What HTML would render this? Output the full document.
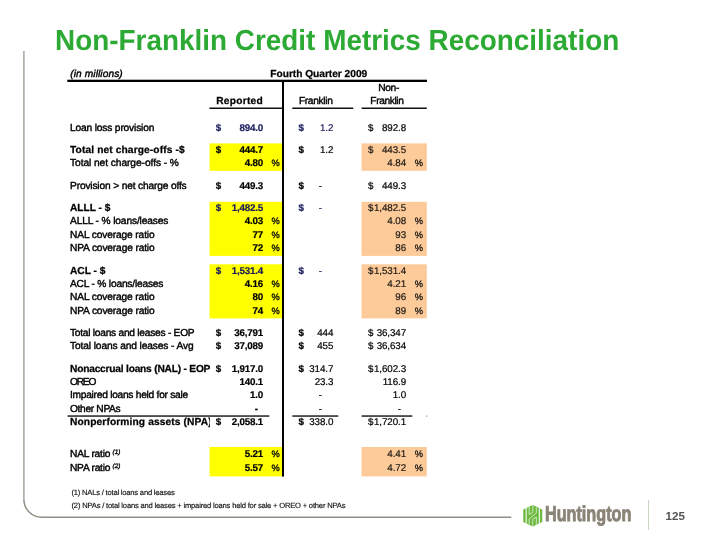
<!DOCTYPE html>
<html lang="en"><head><meta charset="utf-8"><title>Non-Franklin Credit Metrics Reconciliation</title>
<style>
html,body{margin:0;padding:0;background:#fff}
body{width:720px;height:540px;position:relative;overflow:hidden;font-family:"Liberation Sans",sans-serif;text-rendering:geometricPrecision}
.t{position:absolute;white-space:nowrap;font-size:10.2px;line-height:12.0px;color:#000;-webkit-text-stroke:0.4px}
.b{font-weight:bold;-webkit-text-stroke:0.25px}
.i{font-style:italic}
.n{font-size:9.8px;-webkit-text-stroke:0.2px}
.n.b{-webkit-text-stroke:0.2px}
.p{font-size:9.3px;-webkit-text-stroke:0.3px}
.r{position:absolute}
.t sup{font-size:6px;font-style:italic;line-height:0;vertical-align:3px;letter-spacing:0}
#title{position:absolute;left:55.2px;top:24.6px;font-size:29px;line-height:33px;font-weight:bold;color:#2caa34;white-space:nowrap;transform:scaleX(0.962);transform-origin:0 0}
#frame,#shapes{position:absolute;left:0;top:0}
.sp{position:absolute;left:112.6px;font-size:6.4px;line-height:8px;font-style:italic;white-space:nowrap;color:#000;-webkit-text-stroke:0.3px}
.fn{position:absolute;left:71.5px;font-size:7.6px;line-height:10px;white-space:nowrap;color:#111;-webkit-text-stroke:0.15px}
#pg{position:absolute;left:665.5px;top:510px;font-size:11.6px;line-height:13px;font-weight:bold;color:#555}
#sep{position:absolute;left:648px;top:500px;width:1px;height:30px;background:#c9d6c4}
#logo{position:absolute;left:520px;top:502px}
#hunt{position:absolute;left:544.8px;top:499.4px}
</style></head><body>
<svg id="frame" width="720" height="540" viewBox="0 0 720 540"><path d="M23.9,51 V499.5" fill="none" stroke="#a6a399" stroke-width="1.5"/><path d="M23.9,499.5 A17.7,17.7 0 0 0 41.6,517.2 H511.3" fill="none" stroke="#918e84" stroke-width="1.5"/></svg>
<div id="title">Non-Franklin Credit Metrics Reconciliation</div>
<svg id="shapes" width="720" height="540" viewBox="0 0 720 540">
<rect x="209.6" y="143.4" width="72.4" height="27.4" fill="#ffff00"/>
<rect x="361.5" y="143.4" width="65.3" height="27.4" fill="#fdcb9a"/>
<rect x="209.6" y="201.8" width="72.4" height="54.1" fill="#ffff00"/>
<rect x="361.5" y="201.8" width="65.3" height="54.1" fill="#fdcb9a"/>
<rect x="209.6" y="264.3" width="72.4" height="54.1" fill="#ffff00"/>
<rect x="361.5" y="264.3" width="65.3" height="54.1" fill="#fdcb9a"/>
<rect x="209.6" y="447.0" width="72.4" height="29.4" fill="#ffff00"/>
<rect x="361.5" y="447.0" width="65.3" height="29.4" fill="#fdcb9a"/>
<rect x="67.3" y="79.7" width="359.7" height="2.3" fill="#000"/>
<rect x="282.0" y="80.0" width="2.0" height="396.6" fill="#000"/>
<rect x="209.4" y="107.5" width="72.6" height="1.5" fill="#111"/>
<rect x="292.3" y="107.5" width="61.0" height="1.5" fill="#111"/>
<rect x="361.6" y="107.5" width="65.2" height="1.5" fill="#111"/>
<rect x="67.5" y="415.3" width="201.8" height="1.5" fill="#222"/>
<rect x="292.3" y="415.3" width="46.0" height="1.5" fill="#222"/>
<rect x="361.6" y="415.3" width="50.7" height="1.5" fill="#222"/>
<rect x="426.2" y="415.6" width="1.0" height="1.0" fill="#666"/>
</svg>
<div class="t i" style="left:70.3px;top:69.0px;letter-spacing:0.074px;">(in millions)</div>
<div class="t b" style="left:270.3px;top:69.0px;letter-spacing:-0.026px;">Fourth Quarter 2009</div>
<div class="t b" style="left:216.2px;top:96.0px;letter-spacing:0.254px;">Reported</div>
<div class="t " style="left:298.9px;top:96.0px;letter-spacing:-0.333px;">Franklin</div>
<div class="t " style="left:378.2px;top:83.0px;letter-spacing:-0.298px;">Non-</div>
<div class="t " style="left:370.3px;top:96.0px;letter-spacing:-0.391px;">Franklin</div>
<div class="t " style="left:70.0px;top:123.0px;width:140.4px;overflow:hidden;letter-spacing:-0.157px;">Loan loss provision</div>
<div class="t b n" style="left:215.8px;top:123.0px;color:#1c1c5c">$</div>
<div class="t b n" style="right:457.1px;top:123.0px;color:#1c1c5c;letter-spacing:-0.2px;margin-right:-0.2px">894.0</div>
<div class="t b n" style="left:298.4px;top:123.0px;color:#1c1c5c">$</div>
<div class="t n" style="right:386.8px;top:123.0px;color:#1c1c5c;letter-spacing:-0.1px;margin-right:-0.1px">1.2</div>
<div class="t n" style="left:367.9px;top:123.0px;color:#000">$</div>
<div class="t n" style="right:314.1px;top:123.0px;color:#000;letter-spacing:-0.1px;margin-right:-0.1px">892.8</div>
<div class="t b" style="left:70.0px;top:145.0px;width:140.4px;overflow:hidden;letter-spacing:0.120px;">Total net charge-offs -$</div>
<div class="t b n" style="left:215.8px;top:145.0px;color:#000">$</div>
<div class="t b n" style="right:457.1px;top:145.0px;color:#000;letter-spacing:-0.2px;margin-right:-0.2px">444.7</div>
<div class="t b n" style="left:298.4px;top:145.0px;color:#000">$</div>
<div class="t n" style="right:386.8px;top:145.0px;color:#000;letter-spacing:-0.1px;margin-right:-0.1px">1.2</div>
<div class="t n" style="left:367.9px;top:145.0px;color:#1c1814">$</div>
<div class="t n" style="right:314.1px;top:145.0px;color:#1c1814;letter-spacing:-0.1px;margin-right:-0.1px">443.5</div>
<div class="t " style="left:70.0px;top:158.0px;width:140.4px;overflow:hidden;letter-spacing:-0.056px;">Total net charge-offs - %</div>
<div class="t b n" style="right:457.1px;top:158.0px;color:#000;letter-spacing:-0.2px;margin-right:-0.2px">4.80</div>
<div class="t p" style="left:271.6px;top:157.0px;color:#000">%</div>
<div class="t n" style="right:314.1px;top:158.0px;color:#1c1814;letter-spacing:-0.1px;margin-right:-0.1px">4.84</div>
<div class="t p" style="left:414.8px;top:157.0px;color:#1c1814">%</div>
<div class="t " style="left:70.0px;top:181.0px;width:140.4px;overflow:hidden;letter-spacing:-0.156px;">Provision &gt; net charge offs</div>
<div class="t b n" style="left:215.8px;top:181.0px;color:#000">$</div>
<div class="t b n" style="right:457.1px;top:181.0px;color:#000;letter-spacing:-0.2px;margin-right:-0.2px">449.3</div>
<div class="t b n" style="left:298.4px;top:181.0px;color:#000">$</div>
<div class="t n" style="right:398.0px;top:181.0px;color:#000">-</div>
<div class="t n" style="left:367.9px;top:181.0px;color:#000">$</div>
<div class="t n" style="right:314.1px;top:181.0px;color:#000;letter-spacing:-0.1px;margin-right:-0.1px">449.3</div>
<div class="t b" style="left:70.0px;top:203.0px;width:140.4px;overflow:hidden;letter-spacing:-0.023px;">ALLL - $</div>
<div class="t b n" style="left:215.8px;top:203.0px;color:#1c1c5c">$</div>
<div class="t b n" style="right:457.1px;top:203.0px;color:#1c1c5c;letter-spacing:-0.2px;margin-right:-0.2px">1,482.5</div>
<div class="t b n" style="left:298.4px;top:203.0px;color:#1c1c5c">$</div>
<div class="t n" style="right:398.0px;top:203.0px;color:#1c1c5c">-</div>
<div class="t n" style="left:367.9px;top:203.0px;color:#1c1814">$</div>
<div class="t n" style="right:314.1px;top:203.0px;color:#1c1814;letter-spacing:-0.1px;margin-right:-0.1px">1,482.5</div>
<div class="t " style="left:70.0px;top:216.0px;width:140.4px;overflow:hidden;letter-spacing:-0.130px;">ALLL - % loans/leases</div>
<div class="t b n" style="right:457.1px;top:216.0px;color:#000;letter-spacing:-0.2px;margin-right:-0.2px">4.03</div>
<div class="t p" style="left:271.6px;top:215.0px;color:#000">%</div>
<div class="t n" style="right:314.1px;top:216.0px;color:#1c1814;letter-spacing:-0.1px;margin-right:-0.1px">4.08</div>
<div class="t p" style="left:414.8px;top:215.0px;color:#1c1814">%</div>
<div class="t " style="left:70.0px;top:230.0px;width:140.4px;overflow:hidden;letter-spacing:-0.128px;">NAL coverage ratio</div>
<div class="t b n" style="right:457.1px;top:230.0px;color:#000;letter-spacing:-0.2px;margin-right:-0.2px">77</div>
<div class="t p" style="left:271.6px;top:229.0px;color:#000">%</div>
<div class="t n" style="right:314.1px;top:230.0px;color:#1c1814;letter-spacing:-0.1px;margin-right:-0.1px">93</div>
<div class="t p" style="left:414.8px;top:229.0px;color:#1c1814">%</div>
<div class="t " style="left:70.0px;top:243.0px;width:140.4px;overflow:hidden;letter-spacing:-0.139px;">NPA coverage ratio</div>
<div class="t b n" style="right:457.1px;top:243.0px;color:#000;letter-spacing:-0.2px;margin-right:-0.2px">72</div>
<div class="t p" style="left:271.6px;top:242.0px;color:#000">%</div>
<div class="t n" style="right:314.1px;top:243.0px;color:#1c1814;letter-spacing:-0.1px;margin-right:-0.1px">86</div>
<div class="t p" style="left:414.8px;top:242.0px;color:#1c1814">%</div>
<div class="t b" style="left:70.0px;top:266.0px;width:140.4px;overflow:hidden;letter-spacing:-0.014px;">ACL - $</div>
<div class="t b n" style="left:215.8px;top:266.0px;color:#1c1c5c">$</div>
<div class="t b n" style="right:457.1px;top:266.0px;color:#1c1c5c;letter-spacing:-0.2px;margin-right:-0.2px">1,531.4</div>
<div class="t b n" style="left:298.4px;top:266.0px;color:#1c1c5c">$</div>
<div class="t n" style="right:398.0px;top:266.0px;color:#1c1c5c">-</div>
<div class="t n" style="left:367.9px;top:266.0px;color:#1c1814">$</div>
<div class="t n" style="right:314.1px;top:266.0px;color:#1c1814;letter-spacing:-0.1px;margin-right:-0.1px">1,531.4</div>
<div class="t " style="left:70.0px;top:279.0px;width:140.4px;overflow:hidden;letter-spacing:-0.190px;">ACL - % loans/leases</div>
<div class="t b n" style="right:457.1px;top:279.0px;color:#000;letter-spacing:-0.2px;margin-right:-0.2px">4.16</div>
<div class="t p" style="left:271.6px;top:278.0px;color:#000">%</div>
<div class="t n" style="right:314.1px;top:279.0px;color:#1c1814;letter-spacing:-0.1px;margin-right:-0.1px">4.21</div>
<div class="t p" style="left:414.8px;top:278.0px;color:#1c1814">%</div>
<div class="t " style="left:70.0px;top:292.0px;width:140.4px;overflow:hidden;letter-spacing:-0.128px;">NAL coverage ratio</div>
<div class="t b n" style="right:457.1px;top:292.0px;color:#000;letter-spacing:-0.2px;margin-right:-0.2px">80</div>
<div class="t p" style="left:271.6px;top:291.0px;color:#000">%</div>
<div class="t n" style="right:314.1px;top:292.0px;color:#1c1814;letter-spacing:-0.1px;margin-right:-0.1px">96</div>
<div class="t p" style="left:414.8px;top:291.0px;color:#1c1814">%</div>
<div class="t " style="left:70.0px;top:306.0px;width:140.4px;overflow:hidden;letter-spacing:-0.139px;">NPA coverage ratio</div>
<div class="t b n" style="right:457.1px;top:306.0px;color:#000;letter-spacing:-0.2px;margin-right:-0.2px">74</div>
<div class="t p" style="left:271.6px;top:305.0px;color:#000">%</div>
<div class="t n" style="right:314.1px;top:306.0px;color:#1c1814;letter-spacing:-0.1px;margin-right:-0.1px">89</div>
<div class="t p" style="left:414.8px;top:305.0px;color:#1c1814">%</div>
<div class="t " style="left:70.0px;top:328.0px;width:140.4px;overflow:hidden;letter-spacing:-0.250px;">Total loans and leases - EOP</div>
<div class="t b n" style="left:215.8px;top:328.0px;color:#000">$</div>
<div class="t b n" style="right:457.1px;top:328.0px;color:#000;letter-spacing:-0.2px;margin-right:-0.2px">36,791</div>
<div class="t b n" style="left:298.4px;top:328.0px;color:#000">$</div>
<div class="t n" style="right:386.8px;top:328.0px;color:#000;letter-spacing:-0.1px;margin-right:-0.1px">444</div>
<div class="t n" style="left:367.9px;top:328.0px;color:#000">$</div>
<div class="t n" style="right:314.1px;top:328.0px;color:#000;letter-spacing:-0.1px;margin-right:-0.1px">36,347</div>
<div class="t " style="left:70.0px;top:341.0px;width:140.4px;overflow:hidden;letter-spacing:-0.112px;">Total loans and leases - Avg</div>
<div class="t b n" style="left:215.8px;top:341.0px;color:#000">$</div>
<div class="t b n" style="right:457.1px;top:341.0px;color:#000;letter-spacing:-0.2px;margin-right:-0.2px">37,089</div>
<div class="t b n" style="left:298.4px;top:341.0px;color:#000">$</div>
<div class="t n" style="right:386.8px;top:341.0px;color:#000;letter-spacing:-0.1px;margin-right:-0.1px">455</div>
<div class="t n" style="left:367.9px;top:341.0px;color:#000">$</div>
<div class="t n" style="right:314.1px;top:341.0px;color:#000;letter-spacing:-0.1px;margin-right:-0.1px">36,634</div>
<div class="t b" style="left:70.0px;top:364.0px;width:140.4px;overflow:hidden;letter-spacing:-0.209px;">Nonaccrual loans (NAL) - EOP</div>
<div class="t b n" style="left:215.8px;top:364.0px;color:#000">$</div>
<div class="t b n" style="right:457.1px;top:364.0px;color:#000;letter-spacing:-0.2px;margin-right:-0.2px">1,917.0</div>
<div class="t b n" style="left:298.4px;top:364.0px;color:#000">$</div>
<div class="t n" style="right:386.8px;top:364.0px;color:#000;letter-spacing:-0.1px;margin-right:-0.1px">314.7</div>
<div class="t n" style="left:367.9px;top:364.0px;color:#000">$</div>
<div class="t n" style="right:314.1px;top:364.0px;color:#000;letter-spacing:-0.1px;margin-right:-0.1px">1,602.3</div>
<div class="t " style="left:70.0px;top:377.0px;width:140.4px;overflow:hidden;letter-spacing:-1.205px;">OREO</div>
<div class="t b n" style="right:457.1px;top:377.0px;color:#000;letter-spacing:-0.2px;margin-right:-0.2px">140.1</div>
<div class="t n" style="right:386.8px;top:377.0px;color:#000;letter-spacing:-0.1px;margin-right:-0.1px">23.3</div>
<div class="t n" style="right:314.1px;top:377.0px;color:#000;letter-spacing:-0.1px;margin-right:-0.1px">116.9</div>
<div class="t " style="left:70.0px;top:390.0px;width:140.4px;overflow:hidden;letter-spacing:-0.259px;">Impaired loans held for sale</div>
<div class="t b n" style="right:457.1px;top:390.0px;color:#000;letter-spacing:-0.2px;margin-right:-0.2px">1.0</div>
<div class="t n" style="right:398.0px;top:390.0px;color:#000">-</div>
<div class="t n" style="right:314.1px;top:390.0px;color:#000;letter-spacing:-0.1px;margin-right:-0.1px">1.0</div>
<div class="t " style="left:70.0px;top:404.0px;width:140.4px;overflow:hidden;letter-spacing:-0.327px;">Other NPAs</div>
<div class="t b n" style="right:462.0px;top:404.0px;color:#000">-</div>
<div class="t n" style="right:398.0px;top:404.0px;color:#000">-</div>
<div class="t n" style="right:319.0px;top:404.0px;color:#000">-</div>
<div class="t b" style="left:70.0px;top:417.0px;width:140.4px;overflow:hidden;letter-spacing:0.124px;">Nonperforming assets (NPA)</div>
<div class="t b n" style="left:215.8px;top:417.0px;color:#000">$</div>
<div class="t b n" style="right:457.1px;top:417.0px;color:#000;letter-spacing:-0.2px;margin-right:-0.2px">2,058.1</div>
<div class="t b n" style="left:298.4px;top:417.0px;color:#000">$</div>
<div class="t n" style="right:386.8px;top:417.0px;color:#000;letter-spacing:-0.1px;margin-right:-0.1px">338.0</div>
<div class="t n" style="left:367.9px;top:417.0px;color:#000">$</div>
<div class="t n" style="right:314.1px;top:417.0px;color:#000;letter-spacing:-0.1px;margin-right:-0.1px">1,720.1</div>
<div class="t " style="left:70.0px;top:449.0px;width:140.4px;overflow:hidden;letter-spacing:-0.212px;">NAL ratio</div>
<div class="t b n" style="right:457.1px;top:449.0px;color:#000;letter-spacing:-0.2px;margin-right:-0.2px">5.21</div>
<div class="t p" style="left:271.6px;top:448.0px;color:#000">%</div>
<div class="t n" style="right:314.1px;top:449.0px;color:#1c1814;letter-spacing:-0.1px;margin-right:-0.1px">4.41</div>
<div class="t p" style="left:414.8px;top:448.0px;color:#1c1814">%</div>
<div class="t " style="left:70.0px;top:463.0px;width:140.4px;overflow:hidden;letter-spacing:-0.235px;">NPA ratio</div>
<div class="t b n" style="right:457.1px;top:463.0px;color:#000;letter-spacing:-0.2px;margin-right:-0.2px">5.57</div>
<div class="t p" style="left:271.6px;top:462.0px;color:#000">%</div>
<div class="t n" style="right:314.1px;top:463.0px;color:#1c1814;letter-spacing:-0.1px;margin-right:-0.1px">4.72</div>
<div class="t p" style="left:414.8px;top:462.0px;color:#1c1814">%</div>
<div class="sp" style="top:449.3px">(1)</div>
<div class="sp" style="top:463.3px">(2)</div>
<div class="fn" style="top:488.2px;letter-spacing:-0.202px">(1) NALs / total loans and leases</div>
<div class="fn" style="top:500.5px;letter-spacing:-0.187px">(2) NPAs / total loans and leases + impaired loans held for sale + OREO + other NPAs</div>
<svg id="logo" width="26" height="27" viewBox="0 0 520 540">
<polygon points="255,60 445,150 445,400 255,492 65,400 65,150" fill="#6db940"/>
<g fill="#fff">
<rect x="113" y="100" width="21" height="350"/>
<rect x="376" y="100" width="21" height="350"/>
</g>
<g stroke="#dff2d2" stroke-width="17" fill="none" stroke-linejoin="round">
<path d="M184,95 V250 L255,208 V65"/>
<path d="M326,455 V300 L255,342 V487"/>
<path d="M184,445 V335 L326,222 V110"/>
</g>
</svg>
<svg id="hunt" width="90" height="28" viewBox="0 0 90 28">
<text x="0" y="21.8" font-family="Liberation Sans, sans-serif" font-weight="bold" font-size="21.6" fill="#8a8377" stroke="#8a8377" stroke-width="0.9" textLength="86.3" lengthAdjust="spacingAndGlyphs">Huntington</text>
</svg>
<div id="sep"></div>
<div id="pg">125</div>
</body></html>
